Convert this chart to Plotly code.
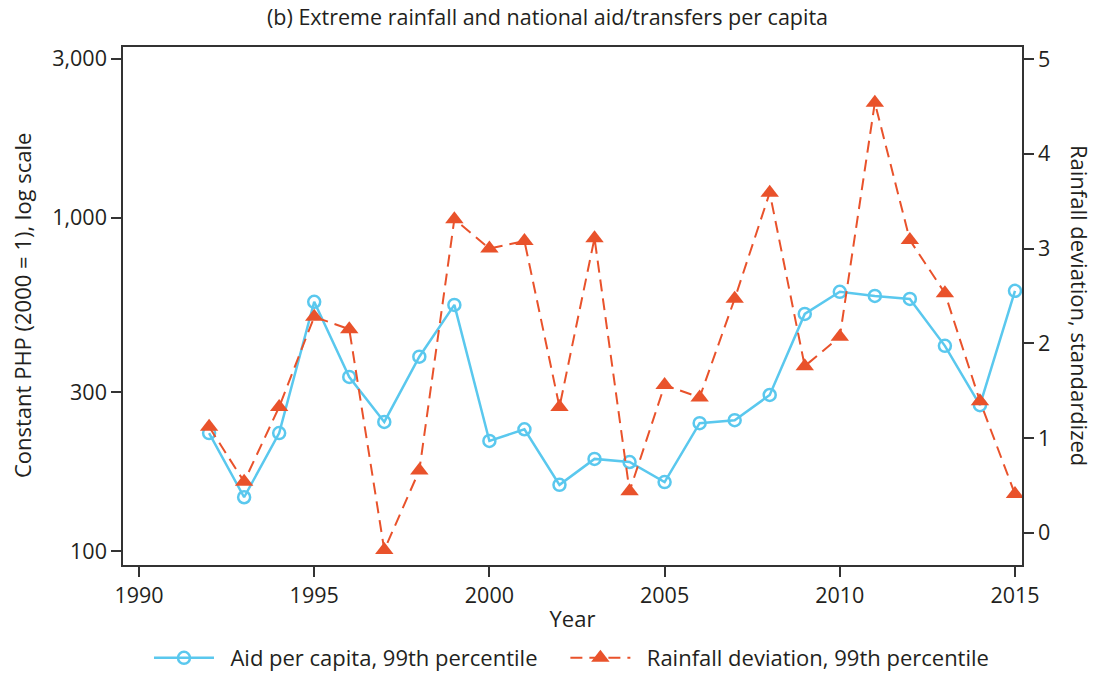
import plotly.graph_objects as go

years = list(range(1992, 2016))
aid_per_capita = [226, 145, 226, 560, 333, 244, 383, 548, 214, 232, 158, 189, 185,
                  161, 242, 247, 294, 515, 600, 583, 571, 413, 274, 604]
rainfall_dev = [1.12, 0.54, 1.33, 2.28, 2.15, -0.18, 0.66, 3.31, 3.00, 3.08, 1.33, 3.11,
                0.44, 1.56, 1.43, 2.47, 3.59, 1.76, 2.07, 4.54, 3.09, 2.53, 1.39, 0.41]

left_ticks = [100, 300, 1000, 3000]
left_labels = ["100", "300", "1,000", "3,000"]
right_ticks = [0, 1, 2, 3, 4, 5]
x_ticks = [1990, 1995, 2000, 2005, 2010, 2015]

BLUE = "#5ac8ee"
RED = "#e9522b"
TXT = "#231f20"
FONT = "Open Sans"
FS = 22
PAD = "\u00a0\u00a0"
TRAIL = "\u00a0\u00a0\u00a0\u00a0"

fig = go.Figure()
fig.add_trace(go.Scatter(
    x=years, y=aid_per_capita, name=PAD + "Aid per capita, 99th percentile" + TRAIL,
    mode="lines+markers",
    line=dict(color=BLUE, width=2.5),
    marker=dict(symbol="circle-open", size=12, color=BLUE, line=dict(width=2.5, color=BLUE)),
    yaxis="y"))
fig.add_trace(go.Scatter(
    x=years, y=rainfall_dev, name=PAD + "Rainfall deviation, 99th percentile",
    mode="lines+markers",
    line=dict(color=RED, width=2, dash="12px,7px"),
    marker=dict(symbol="triangle-up", size=16, color=RED),
    yaxis="y2"))

axis_common = dict(showline=True, linecolor="#333333", linewidth=1.5, ticks="outside",
                   ticklen=10, tickcolor="#333333", tickwidth=1.5, showgrid=False,
                   zeroline=False, tickfont=dict(family=FONT, size=21.5, color=TXT))

fig.update_layout(
    width=1095, height=673,
    margin=dict(l=123, r=73, t=47, b=108, autoexpand=False),
    paper_bgcolor="white", plot_bgcolor="white",
    font=dict(family=FONT, color=TXT),
    title=dict(text="(b) Extreme rainfall and national aid/transfers per capita",
               x=0.5, xanchor="center", xref="container", y=0.9747, yanchor="middle",
               font=dict(family=FONT, size=21.5, color=TXT)),
    xaxis=dict(range=[1989.543, 2015.2], tickvals=x_ticks, mirror=True,
               title=dict(text="Year", font=dict(family=FONT, size=FS, color=TXT), standoff=4),
               **axis_common),
    yaxis=dict(type="log", range=[1.958, 3.513], tickvals=left_ticks, ticktext=left_labels,
               mirror=False, **axis_common),
    yaxis2=dict(overlaying="y", side="right", range=[-0.338, 5.127], tickvals=right_ticks,
                **axis_common),
    legend=dict(orientation="h", x=0.0289, xanchor="left", xref="paper",
                y=0.0223, yanchor="middle", yref="container",
                font=dict(family=FONT, size=FS, color=TXT), itemwidth=60,
                bgcolor="rgba(0,0,0,0)"),
    showlegend=True,
)
fig.add_annotation(text="Constant PHP (2000 = 1), log scale", textangle=-90,
                   xref="paper", yref="paper", x=-0.1123, y=0.5, xanchor="center",
                   yanchor="middle", showarrow=False,
                   font=dict(family=FONT, size=FS, color=TXT))
fig.add_annotation(text="Rainfall deviation, standardized", textangle=90,
                   xref="paper", yref="paper", x=1.0645, y=0.5, xanchor="center",
                   yanchor="middle", showarrow=False,
                   font=dict(family=FONT, size=FS, color=TXT))

fig.write_html("out.html", config={"displayModeBar": False},
               post_script="document.body.style.margin='0';")
